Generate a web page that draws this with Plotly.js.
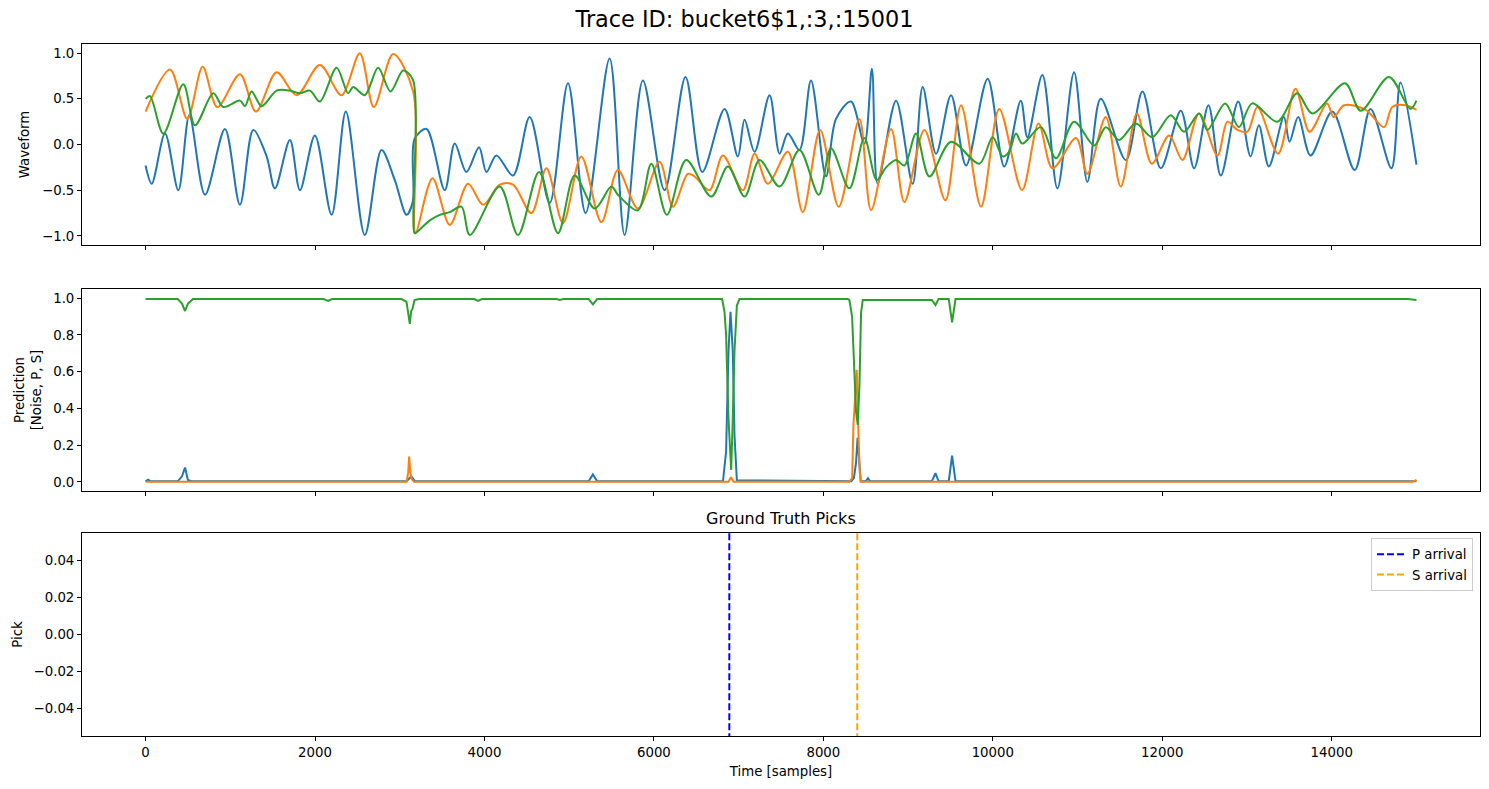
<!DOCTYPE html>
<html>
<head>
<meta charset="utf-8">
<script src="https://cdn.plot.ly/plotly-3.0.1.min.js"></script>
<style>html,body{margin:0;padding:0;background:#fff;}#chart{width:1489px;height:789px;}</style>
</head>
<body>
<div id="chart"></div>
<script>
// ---- Waveform (turning points) ----
const waveBlueX = [0,73,230,387,517,702,937,1114,1271,1429,1527,1704,1822,1999,2196,2364,2588,2785,2942,3080,3155,3175,3316,3531,3649,3787,3936,4023,4141,4337,4534,4770,4986,5194,5477,5654,5870,6126,6373,6571,6834,6991,7070,7188,7365,7483,7581,7718,7854,8031,8149,8326,8484,8573,8641,8858,9054,9172,9330,9507,9684,9939,10135,10330,10408,10585,10762,10959,11116,11274,11570,11766,11983,12219,12376,12545,12691,12896,13042,13140,13258,13435,13502,13604,13750,14007,14271,14458,14705,14811,15000];
const waveBlueY = [-0.23,-0.43,0.12,-0.50,0.32,-0.55,0.17,-0.66,0.16,-0.13,-0.48,0.05,-0.50,0.10,-0.77,0.36,-0.99,-0.06,-0.39,-0.77,-0.62,0.06,0.17,-0.50,0.01,-0.30,-0.03,-0.30,-0.12,-0.34,0.30,-0.64,0.67,-0.75,0.94,-0.99,0.70,-0.50,0.74,-0.30,0.39,-0.13,0.27,-0.08,0.54,-0.10,0.12,-0.06,0.70,-0.35,0.28,0.47,0.01,0.83,-0.43,0.48,-0.43,0.63,-0.10,0.54,-0.23,0.72,-0.24,0.48,0.08,0.76,-0.48,0.79,-0.41,0.50,-0.17,0.58,-0.26,0.37,-0.26,0.43,-0.34,0.47,-0.13,0.21,-0.24,0.30,0.03,0.30,-0.12,0.36,-0.28,0.39,-0.26,0.68,-0.22];

const waveOrangeX = [0,289,493,674,847,1114,1303,1547,1783,2058,2313,2529,2694,2922,3158,3175,3190,3387,3591,3807,3984,4180,4337,4554,4731,4927,5143,5380,5575,5811,6067,6224,6401,6480,6657,6814,7050,7188,7345,7581,7757,7962,8181,8425,8563,8799,8956,9192,9440,9625,9861,10076,10345,10540,10705,10982,11116,11333,11510,11700,11877,12081,12238,12435,12651,12769,12887,13005,13123,13367,13572,13738,13945,14024,14145,14401,14617,14715,14873,15000];
const waveOrangeY = [0.36,0.82,0.28,0.85,0.41,0.77,0.36,0.79,0.54,0.87,0.54,1.00,0.41,0.99,0.58,-0.95,-0.97,-0.37,-0.88,-0.43,-0.66,-0.44,-0.44,-0.75,-0.26,-0.86,-0.13,-0.85,-0.28,-0.70,-0.19,-0.68,-0.32,-0.35,-0.50,-0.12,-0.50,-0.10,-0.43,-0.08,-0.74,0.16,-0.68,0.28,-0.72,0.17,-0.63,0.16,-0.61,0.43,-0.68,0.39,-0.50,0.23,-0.26,0.07,-0.32,0.30,-0.46,0.34,-0.21,0.10,-0.17,0.34,-0.12,0.25,0.16,0.14,0.41,-0.10,0.61,0.14,0.45,0.30,0.43,0.38,0.19,0.41,0.43,0.38];

const waveGreenX = [0,53,210,446,584,800,918,1114,1173,1252,1370,1547,1704,1822,1940,2058,2255,2391,2450,2588,2745,2891,3040,3155,3175,3200,3355,3473,3591,3729,3827,4180,4396,4644,4868,5065,5301,5498,5575,5811,5969,6153,6381,6677,6873,7070,7247,7483,7718,7946,8090,8307,8484,8630,8740,8858,8956,9094,9251,9507,9841,9998,10116,10192,10273,10349,10568,10745,10959,11197,11333,11491,11687,11883,12100,12258,12435,12533,12742,12904,13061,13358,13591,13772,14157,14342,14676,14929,15000];
const waveGreenY = [0.50,0.53,0.12,0.66,0.21,0.56,0.41,0.48,0.42,0.58,0.42,0.59,0.59,0.56,0.59,0.47,0.84,0.56,0.63,0.54,0.84,0.58,0.81,0.71,-0.97,-0.96,-0.83,-0.77,-0.74,-0.68,-0.99,-0.46,-0.99,-0.30,-0.97,-0.34,-0.70,-0.46,-0.55,-0.72,-0.21,-0.77,-0.17,-0.57,-0.24,-0.57,-0.17,-0.46,-0.06,-0.55,-0.04,-0.48,0.07,-0.39,-0.25,-0.17,-0.23,0.12,-0.35,0.03,-0.21,0.08,-0.13,-0.08,0.12,0.01,0.19,-0.15,0.25,-0.01,0.19,0.05,0.23,0.08,0.32,0.14,0.34,0.16,0.45,0.19,0.45,0.25,0.56,0.34,0.67,0.37,0.74,0.39,0.48];

// ---- Predictions [Noise, P, S] ----
const predNoiseX = [0,380,430,466,500,560,2100,2156,2200,3020,3080,3119,3135,3150,3175,3230,3880,3924,3970,4850,4888,4930,5230,5280,5330,6805,6833,6852,6880,6912,6931,6951,6979,7010,8288,8307,8339,8366,8386,8406,8426,8445,8465,9280,9323,9360,9480,9519,9560,14900,15000];
const predNoiseY = [0.995,0.995,0.97,0.93,0.97,0.995,0.995,0.985,0.995,0.995,0.98,0.86,0.93,0.94,0.99,0.995,0.995,0.985,0.995,0.995,0.99,0.995,0.995,0.966,0.995,0.995,0.926,0.80,0.346,0.065,0.346,0.71,0.96,0.995,0.995,0.99,0.90,0.62,0.38,0.31,0.53,0.92,0.99,0.99,0.962,0.995,0.995,0.868,0.995,0.995,0.99];

const predPX = [0,30,60,380,430,466,500,540,3080,3137,3180,5230,5280,5330,6815,6852,6880,6904,6931,6951,6979,8330,8360,8385,8404,8420,8440,8500,8527,8550,9280,9323,9360,9480,9519,9560,15000];
const predPY = [0.003,0.012,0.003,0.003,0.03,0.078,0.01,0.003,0.003,0.03,0.003,0.003,0.04,0.003,0.003,0.165,0.71,0.926,0.71,0.255,0.008,0.003,0.02,0.10,0.24,0.10,0.003,0.003,0.02,0.003,0.003,0.047,0.003,0.003,0.143,0.003,0.003];

const predSX = [0,3080,3100,3111,3125,3140,3170,6880,6910,6940,8307,8340,8355,8375,8394,8418,8430,8445,14950,15000];
const predSY = [0.0,0.0,0.05,0.138,0.05,0.015,0.0,0.0,0.025,0.0,0.0,0.02,0.31,0.5,0.61,0.2,0.05,0.0,0.0,0.01];

// ---- Ground truth picks ----
const pickNames = ['P arrival','S arrival'];
const pickSamples = [6890, 8400];
const pickColors = ['blue','orange'];

const C = ['#1f77b4','#ff7f0e','#2ca02c'];
const FONT = 'DejaVu Sans, sans-serif';

const traces = [
  {x: waveBlueX, y: waveBlueY, xaxis:'x', yaxis:'y', mode:'lines', line:{color:C[0], width:2, shape:'spline', smoothing:0.9}, showlegend:false},
  {x: waveOrangeX, y: waveOrangeY, xaxis:'x', yaxis:'y', mode:'lines', line:{color:C[1], width:2, shape:'spline', smoothing:0.9}, showlegend:false},
  {x: waveGreenX, y: waveGreenY, xaxis:'x', yaxis:'y', mode:'lines', line:{color:C[2], width:2, shape:'spline', smoothing:0.9}, showlegend:false},
  {x: predPX, y: predPY, xaxis:'x2', yaxis:'y2', mode:'lines', line:{color:C[0], width:2}, showlegend:false},
  {x: predSX, y: predSY, xaxis:'x2', yaxis:'y2', mode:'lines', line:{color:C[1], width:2}, showlegend:false},
  {x: predNoiseX, y: predNoiseY, xaxis:'x2', yaxis:'y2', mode:'lines', line:{color:C[2], width:2}, showlegend:false}
];
pickSamples.forEach((s, i) => {
  traces.push({x:[s, s], y:[-1, 1], xaxis:'x3', yaxis:'y3', mode:'lines', name:pickNames[i],
    line:{color:pickColors[i], width:2, dash:'7px,3px'}, showlegend:true});
});

const axBase = {showgrid:false, zeroline:false, showline:true, mirror:true, linecolor:'#000', linewidth:1,
  ticks:'outside', ticklen:4, tickwidth:1, tickcolor:'#000', tickfont:{family:FONT, size:13.3, color:'#000'}};
const xCommon = Object.assign({}, axBase, {range:[-750,15750], tickmode:'linear', tick0:0, dtick:2000, tickformat:'d'});
const tfont = {family:FONT, size:13.3, color:'#000'};

const layout = {
  width:1489, height:789,
  margin:{l:82, r:9, t:44, b:53},
  paper_bgcolor:'#fff', plot_bgcolor:'#fff',
  font:{family:FONT, size:13.3, color:'#000'},
  title:{text:'Trace ID: bucket6$1,:3,:15001', font:{family:FONT, size:22.4, color:'#000'}, x:0.5, xref:'container', xanchor:'center', y:0.976, yref:'container', yanchor:'middle'},
  xaxis: Object.assign({}, xCommon, {domain:[0,1], anchor:'y', matches:'x3', showticklabels:false}),
  xaxis2: Object.assign({}, xCommon, {domain:[0,1], anchor:'y2', matches:'x3', showticklabels:false}),
  xaxis3: Object.assign({}, xCommon, {domain:[0,1], anchor:'y3', title:{text:'Time [samples]', font:tfont, standoff:7}}),
  yaxis: Object.assign({}, axBase, {domain:[0.7095,1], anchor:'x', range:[-1.1,1.1], tickmode:'linear', tick0:0, dtick:0.5, tickformat:'.1f',
    title:{text:'Waveform', font:tfont, standoff:9}}),
  yaxis2: Object.assign({}, axBase, {domain:[0.354,0.646], anchor:'x2', range:[-0.05,1.05], tickmode:'linear', tick0:0, dtick:0.2, tickformat:'.1f',
    title:{text:'Prediction<br>[Noise, P, S]', font:tfont, standoff:8}}),
  yaxis3: Object.assign({}, axBase, {domain:[0,0.2934], anchor:'x3', range:[-0.055,0.055], tickmode:'linear', tick0:0, dtick:0.02, tickformat:'.2f',
    title:{text:'Pick', font:tfont, standoff:7}}),
  legend:{x:0.995, xanchor:'right', y:0.286, yanchor:'top', bgcolor:'rgba(255,255,255,0.8)', bordercolor:'#cccccc', borderwidth:1,
    font:{family:FONT, size:13.3, color:'#000'}, itemwidth:30, tracegroupgap:2},
  annotations:[{text:'Ground Truth Picks', x:0.5, xref:'paper', y:0.2934, yref:'paper', xanchor:'center', yanchor:'bottom', yshift:3, showarrow:false,
    font:{family:FONT, size:16, color:'#000'}}],
  showlegend:true
};

Plotly.newPlot('chart', traces, layout, {displayModeBar:false, staticPlot:true});
</script>
</body>
</html>
